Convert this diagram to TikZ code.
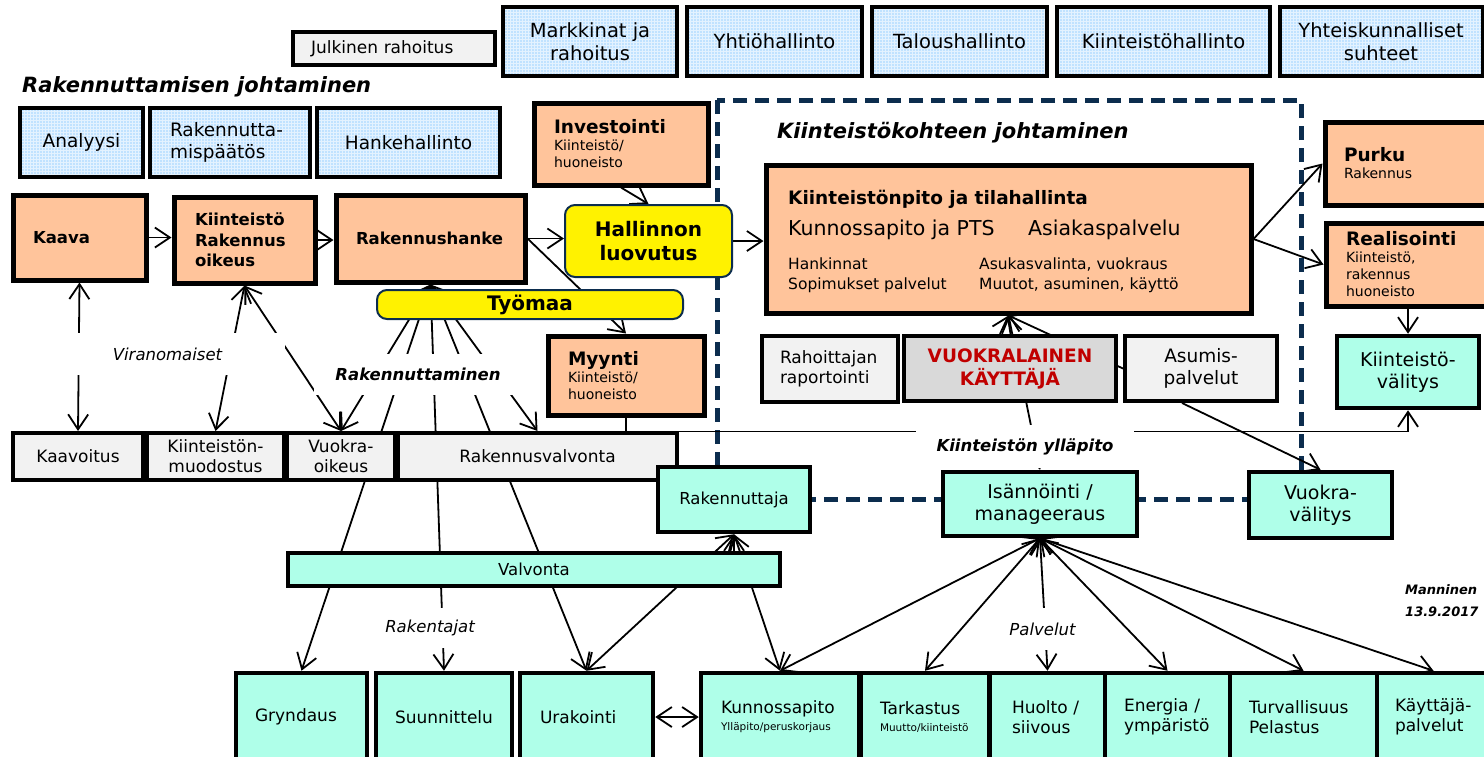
\documentclass[tikz,border=0pt]{standalone}
\usepackage{fontspec}
\setmainfont{DejaVu Sans}
\usetikzlibrary{arrows.meta,backgrounds,patterns}

\definecolor{orangebox}{RGB}{255,196,155}
\definecolor{bluebox}{RGB}{192,226,255}
\definecolor{graybox}{RGB}{242,242,242}
\definecolor{usergray}{RGB}{217,217,217}
\definecolor{turqbox}{RGB}{175,255,233}
\definecolor{navy}{RGB}{12,45,78}
\definecolor{userred}{RGB}{192,0,0}

\newcommand{\fs}[2]{\fontsize{#1}{#2}\selectfont}

\begin{document}
\begin{tikzpicture}[x=1pt,y=-1pt,
    bx/.style={draw,line width=4pt,inner sep=0pt,align=center},
    bluebx/.style={bx,preaction={fill=bluebox},preaction={pattern=grid,pattern color=white!55!bluebox}},
    orangebx/.style={bx,fill=orangebox,line width=5pt,align=left},
    graybx/.style={bx,fill=graybox},
    turqbx/.style={bx,fill=turqbox,line width=4.5pt},
    yellowbx/.style={draw=navy,fill=yellow,line width=2pt,rounded corners=10pt,inner sep=0pt,align=center},
    lbl/.style={fill=white,inner sep=0pt},
    arr/.style={-{Straight Barb[length=15pt,width=20pt]},line width=1.8pt},
    biarr/.style={{Straight Barb[length=15pt,width=20pt]}-{Straight Barb[length=15pt,width=20pt]},line width=1.8pt}
  ]
  \useasboundingbox (0,0) rectangle (1484,756);
  \clip (0,0) rectangle (1484,756);

  % ylarivi
  \node[graybx,minimum width=202,minimum height=33,text width=166,align=left,font=\fs{17}{20}] (julk) at (394,48.5) {Julkinen rahoitus};
  \node[bluebx,minimum width=174,minimum height=69,font=\fs{19.5}{23.5}] (mark) at (590,41.5) {Markkinat ja\\rahoitus};
  \node[bluebx,minimum width=175,minimum height=69,font=\fs{19.5}{23.5}] (yhtio) at (774.5,41.5) {Yhtiöhallinto};
  \node[bluebx,minimum width=175,minimum height=69,font=\fs{19.5}{23.5}] (talous) at (959.5,41.5) {Taloushallinto};
  \node[bluebx,minimum width=213,minimum height=69,font=\fs{19.5}{23.5}] (kiinth) at (1163.5,41.5) {Kiinteistöhallinto};
  \node[bluebx,minimum width=203,minimum height=69,font=\fs{19.5}{23.5}] (yhteis) at (1381,41.5) {Yhteiskunnalliset\\suhteet};

  \node[anchor=west,inner sep=0pt,font=\fs{21}{25}\bfseries\itshape] (rjoht) at (22,87) {Rakennuttamisen johtaminen};
  \node[bluebx,minimum width=123,minimum height=69,font=\fs{18.5}{22}] (analyysi) at (81.5,142.5) {Analyysi};
  \node[bluebx,minimum width=160,minimum height=69,text width=120,align=left,font=\fs{18.5}{22}] (rpaatos) at (230,142.5) {Rakennutta-\\mispäätös};
  \node[bluebx,minimum width=183,minimum height=69,font=\fs{18.5}{22}] (hhall) at (408.5,142.5) {Hankehallinto};

  % rakennuttamisen vaiheet
  \node[orangebx,minimum width=133,minimum height=85,text width=93,font=\fs{16.5}{20.5}\bfseries] (kaava) at (79.5,237.5) {Kaava};
  \node[orangebx,minimum width=141,minimum height=86,text width=99,font=\fs{16.5}{20.5}\bfseries] (kro) at (244.5,240) {Kiinteistö\\Rakennus\\oikeus};
  \node[orangebx,minimum width=189,minimum height=87,text width=149,font=\fs{16.5}{20.5}\bfseries] (rhanke) at (430.5,238.5) {Rakennushanke};
  \node[orangebx,minimum width=174,minimum height=82,text width=134,font=\fs{14}{17}] (invest) at (621,144) {{\bfseries\fs{18.5}{20}Investointi}\\Kiinteistö/\\huoneisto};
  \node[yellowbx,minimum width=167,minimum height=72,font=\fs{20}{24}\bfseries] (hluov) at (648.5,241) {Hallinnon\\luovutus};
  \node[yellowbx,minimum width=306,minimum height=29,font=\fs{20}{24}\bfseries] (tyomaa) at (530,304.5) {Työmaa};
  \node[orangebx,minimum width=156,minimum height=79,text width=116,font=\fs{14}{17}] (myynti) at (626,375.5) {{\bfseries\fs{18.5}{20}Myynti}\\Kiinteistö/\\huoneisto};

  % kiinteistokohde
  \node[anchor=west,inner sep=0pt,font=\fs{21}{25}\bfseries\itshape] (kjoht) at (777,133) {Kiinteistökohteen johtaminen};
  \node[orangebx,minimum width=485,minimum height=148] (kpito) at (1008.5,239) {};
  \node[anchor=west,inner sep=0pt,font=\fs{18.5}{22}\bfseries] (kpt1) at (788,199) {Kiinteistönpito ja tilahallinta};
  \node[anchor=west,inner sep=0pt,font=\fs{20.5}{24}] (kpt2) at (788,230) {Kunnossapito ja PTS};
  \node[anchor=west,inner sep=0pt,font=\fs{20.5}{24}] (kpt3) at (1028,230) {Asiakaspalvelu};
  \node[anchor=west,inner sep=0pt,align=left,font=\fs{15.5}{19.5}] (kpt4) at (788,275) {Hankinnat\\Sopimukset palvelut};
  \node[anchor=west,inner sep=0pt,align=left,font=\fs{15.5}{19.5}] (kpt5) at (979,275) {Asukasvalinta, vuokraus\\Muutot, asuminen, käyttö};
  \node[orangebx,minimum width=165,minimum height=83,text width=127,font=\fs{14}{17}] (purku) at (1407.5,163.5) {{\bfseries\fs{18.5}{20}Purku}\\Rakennus};
  \node[orangebx,minimum width=164,minimum height=83,text width=124,font=\fs{14}{17}] (realis) at (1408,264.5) {{\bfseries\fs{18.5}{20}Realisointi}\\Kiinteistö,\\rakennus\\huoneisto};
  \node[turqbx,minimum width=142,minimum height=72,font=\fs{19}{22}] (kvalit) at (1408,372) {Kiinteistö-\\välitys};
  \node[graybx,minimum width=136,minimum height=66,text width=100,align=left,font=\fs{17}{20}] (rahrap) at (830,369) {Rahoittajan\\raportointi};
  \node[bx,fill=usergray,minimum width=212,minimum height=65,text=userred,font=\fs{18.5}{23}\bfseries] (vuokral) at (1010,368.5) {VUOKRALAINEN\\KÄYTTÄJÄ};
  \node[graybx,minimum width=152,minimum height=65,font=\fs{18.5}{22}] (asumis) at (1201,368.5) {Asumis-\\palvelut};

  % viranomaiset
  \node[graybx,minimum width=130,minimum height=47,font=\fs{17}{20}] (kaavoit) at (78,456.5) {Kaavoitus};
  \node[graybx,minimum width=137,minimum height=47,font=\fs{17}{20}] (kmuod) at (215.5,456.5) {Kiinteistön-\\muodostus};
  \node[graybx,minimum width=108,minimum height=47,font=\fs{17}{20}] (vuokraoik) at (341,456.5) {Vuokra-\\oikeus};
  \node[graybx,minimum width=279,minimum height=47,font=\fs{17}{20}] (rvalv) at (537.5,456.5) {Rakennusvalvonta};

  \node[turqbx,minimum width=152,minimum height=65,font=\fs{16.5}{20}] (rtaja) at (734,499.5) {Rakennuttaja};
  \node[turqbx,minimum width=194,minimum height=64,font=\fs{19}{22}] (isann) at (1040,504) {Isännöinti /\\manageeraus};
  \node[turqbx,minimum width=143,minimum height=66,font=\fs{19}{22}] (vvalit) at (1320.5,505) {Vuokra-\\välitys};
  \node[turqbx,minimum width=492,minimum height=33,font=\fs{16.5}{20}] (valvonta) at (534,569.5) {Valvonta};

  % alarivi
  \node[turqbx,minimum width=131,minimum height=88,text width=93,align=left,font=\fs{17}{20}] (grynd) at (301.5,717) {Gryndaus};
  \node[turqbx,minimum width=136,minimum height=88,font=\fs{17}{20}] (suunn) at (444,717) {Suunnittelu};
  \node[turqbx,minimum width=133,minimum height=88,text width=93,align=left,font=\fs{17}{20}] (urak) at (586.5,717) {Urakointi};
  \node[turqbx,minimum width=158,minimum height=88,text width=118,align=left,font=\fs{17}{17}] (kunn) at (780,717) {Kunnossapito\\{\fs{10.5}{11}Ylläpito/peruskorjaus}};
  \node[turqbx,minimum width=128,minimum height=88,text width=90,align=left,font=\fs{17}{17}] (tark) at (925,717) {Tarkastus\\{\fs{10.5}{11}Muutto/kiinteistö}};
  \node[turqbx,minimum width=115,minimum height=88,text width=71,align=left,font=\fs{17}{20}] (huolto) at (1047.5,717) {Huolto~/\\siivous};
  \node[turqbx,minimum width=125,minimum height=88,text width=87,align=left,font=\fs{17}{20}] (energia) at (1167.5,717) {Energia~/\\ympäristö};
  \node[turqbx,minimum width=147,minimum height=88,text width=109,align=left,font=\fs{17}{20}] (turv) at (1303.5,717) {Turvallisuus\\Pelastus};
  \node[turqbx,minimum width=113,minimum height=88,text width=77,align=left,font=\fs{17}{20}] (kayt) at (1433.5,717) {Käyttäjä-\\palvelut};

  \node[anchor=west,inner sep=0pt,align=left,font=\fs{13}{22}\bfseries\itshape] (mann) at (1405,601) {Manninen\\13.9.2017};

  % valitekstit
  \node[lbl,minimum width=235,minimum height=42,font=\fs{16.5}{20}\itshape] (viran) at (167.5,354) {Viranomaiset};
  \node[lbl,minimum width=208,minimum height=41,font=\fs{16.5}{20}\bfseries\itshape] (rakm) at (418,374.5) {Rakennuttaminen};
  \node[lbl,minimum width=100,minimum height=40,font=\fs{16.5}{20}\itshape] (rakent) at (430,628) {Rakentajat};
  \node[lbl,minimum width=95,minimum height=42,font=\fs{16.5}{20}\itshape] (palv) at (1042.5,629) {Palvelut};
  \node[lbl,minimum width=218,minimum height=43,font=\fs{16.5}{20}\bfseries\itshape] (kyll) at (1025,446.5) {Kiinteistön ylläpito};

  \begin{pgfonlayer}{background}
    \draw[navy,line width=5pt,dash pattern=on 14pt off 8pt] (717,100) rectangle (1301,499);
    \draw[arr] (kaava.east) -- (kaava.east -| kro.west);
    \draw[arr] (kro.east) -- (kro.east -| rhanke.west);
    \draw[arr] (rhanke.east) -- (rhanke.east -| hluov.west);
    \draw[arr] (rhanke.east) -- (myynti.north);
    \draw[arr] (invest.south) -- (hluov.north);
    \draw[arr] (hluov.east) -- (hluov.east -| kpito.west);
    \draw[arr] (kpito.east) -- (purku.west);
    \draw[arr] (kpito.east) -- (realis.west);
    \draw[arr] (realis.south) -- (kvalit.north);
    \draw[arr] (myynti.south) -- ++(0,14) -| (kvalit.south);
    \draw[arr] ([xshift=-19pt]asumis.south) -- (vvalit.north);
    \draw[arr] (asumis.west) -- (kpito.south);
    \draw[arr] ([xshift=-10pt]vuokral.north) -- (kpito.south);
    \draw[biarr] (isann.north) -- (kpito.south);
    \draw[biarr] (kaava.south) -- (kaavoit.north);
    \draw[biarr] (kro.south) -- (kmuod.north);
    \draw[biarr] (kro.south) -- (vuokraoik.north);
    \foreach \t in {vuokraoik,grynd,suunn,urak,rvalv}
      \draw[biarr] (rhanke.south) -- (\t.north);
    \draw[biarr] (rtaja.south) -- (urak.north);
    \draw[biarr] (rtaja.south) -- (kunn.north);
    \draw[arr] (valvonta.north -| rtaja.south) -- (rtaja.south);
    \draw[biarr] (urak.east) -- (kunn.west);
    \foreach \t in {kunn,tark,huolto,energia,turv,kayt}
      \draw[biarr] (isann.south) -- (\t.north);
  \end{pgfonlayer}
\end{tikzpicture}
\end{document}
